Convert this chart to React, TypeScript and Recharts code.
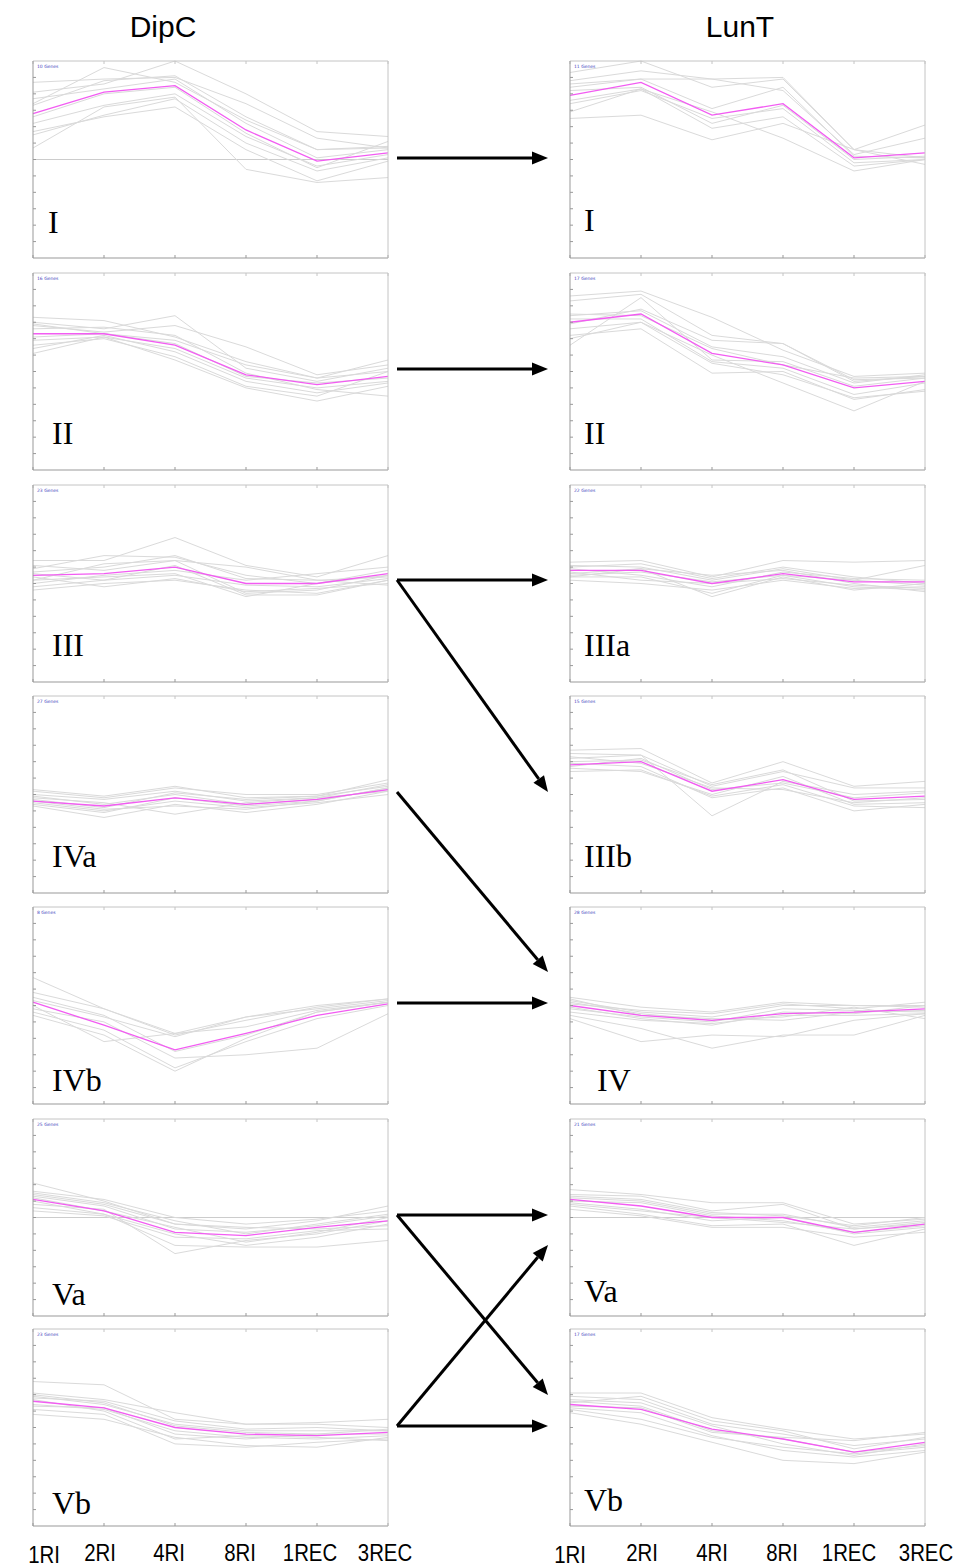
import { LineChart, Line, XAxis, YAxis, ReferenceLine } from "recharts";

const times = ["1RI", "2RI", "4RI", "8RI", "1REC", "3REC"];
const yTicks = [-2.5, -2, -1.5, -1, -0.5, 0, 0.5, 1, 1.5, 2, 2.5];

// DipC clusters
const dipcI_mean = [1.4, 2.05, 2.25, 0.9, -0.05, 0.2];
const dipcI_genes = [
  [2.35, 2.45, 2.5, 1.7, 0.65, 0.35],
  [1.7, 2.8, 2.35, 1.2, 0.3, 0.4],
  [2.05, 2.3, 3.0, 2.0, 0.85, 0.7],
  [1.85, 2.15, 2.45, 1.1, 0.05, 0.3],
  [1.1, 1.65, 2.0, 0.7, -0.2, 0.15],
  [0.75, 1.35, 1.85, 0.5, -0.35, 0.05],
  [0.35, 1.6, 1.9, -0.3, -0.7, -0.55],
  [0.85, 1.3, 1.6, 0.3, -0.65, -0.05],
  [1.65, 2.4, 2.55, 1.3, 0.3, 0.35],
  [1.3, 2.0, 2.2, 0.8, -0.25, 0.55],
];

const dipcII_mean = [1.15, 1.15, 0.8, -0.1, -0.4, -0.15];
const dipcII_genes = [
  [1.65, 1.55, 1.05, 0.3, -0.2, 0.35],
  [1.5, 1.3, 1.7, 0.1, -0.3, 0.1],
  [1.4, 1.2, 1.4, 0.75, -0.1, 0.2],
  [0.95, 1.05, 0.7, -0.2, -0.5, -0.3],
  [0.8, 1.0, 0.45, -0.45, -0.75, 0.0],
  [0.55, 1.05, 0.35, -0.5, -0.9, -0.45],
  [1.3, 1.35, 1.1, -0.05, -0.55, -0.75],
  [1.05, 1.15, 0.85, -0.15, -0.35, -0.2],
  [0.7, 1.1, 0.6, -0.3, -0.65, -0.35],
  [1.45, 1.15, 0.95, 0.2, -0.2, 0.0],
];

const dipcIII_mean = [0.25, 0.3, 0.5, 0.0, 0.0, 0.3];
const dipcIII_genes = [
  [0.7, 0.7, 1.4, 0.55, 0.2, 0.85],
  [0.45, 0.85, 0.8, 0.25, 0.0, 0.4],
  [0.1, 0.6, 0.7, -0.3, -0.2, 0.25],
  [-0.1, 0.1, 0.55, -0.35, -0.35, 0.1],
  [0.3, 0.1, 0.25, -0.05, -0.1, 0.15],
  [0.0, 0.25, 0.4, 0.1, 0.3, 0.5],
  [-0.2, 0.0, 0.1, -0.2, -0.3, 0.1],
  [0.55, 0.4, 0.7, 0.5, 0.1, 0.2],
  [0.2, -0.1, 0.15, -0.25, -0.15, 0.0],
  [0.35, 0.5, 0.85, 0.15, 0.1, -0.05],
  [0.1, 0.2, 0.3, -0.4, 0.0, 0.25],
];

const dipcIVa_mean = [-0.2, -0.35, -0.1, -0.3, -0.15, 0.15];
const dipcIVa_genes = [
  [0.15, -0.05, 0.25, -0.1, -0.05, 0.45],
  [0.0, -0.15, 0.1, -0.2, -0.1, 0.3],
  [-0.3, -0.55, -0.1, -0.35, -0.2, 0.2],
  [-0.35, -0.7, -0.3, -0.55, -0.3, 0.1],
  [-0.1, -0.25, -0.6, -0.25, -0.1, 0.1],
  [-0.15, -0.4, 0.05, -0.15, -0.05, 0.25],
  [-0.25, -0.5, -0.2, -0.4, -0.25, 0.0],
  [0.1, -0.1, 0.2, 0.0, 0.0, 0.35],
  [-0.05, -0.3, 0.0, -0.3, -0.15, 0.15],
  [-0.2, -0.45, -0.35, -0.45, -0.2, 0.2],
];

const dipcIVb_mean = [0.1, -0.6, -1.35, -0.85, -0.3, 0.05];
const dipcIVb_genes = [
  [0.85, -0.1, -0.9, -0.45, -0.05, 0.2],
  [0.4, -0.1, -0.85, -0.35, 0.0, 0.2],
  [0.25, -0.3, -1.4, -0.9, -0.2, 0.1],
  [-0.1, -0.5, -1.6, -1.5, -1.3, -0.25],
  [0.0, -1.1, -0.85, -0.65, -0.15, 0.1],
  [-0.2, -0.75, -1.9, -1.1, -0.4, 0.0],
  [-0.3, -0.9, -2.0, -1.0, -0.2, 0.1],
  [0.15, -0.35, -0.95, -0.35, -0.1, 0.15],
];

const dipcVa_mean = [0.55, 0.2, -0.45, -0.55, -0.3, -0.1];
const dipcVa_genes = [
  [1.05, 0.5, -0.2, -0.35, -0.1, 0.35],
  [0.8, 0.55, 0.0, -0.2, -0.05, 0.2],
  [0.65, 0.35, -0.35, -0.45, -0.25, 0.05],
  [0.4, 0.25, -1.1, -0.7, -0.5, -0.1],
  [0.3, 0.1, -0.5, -0.85, -0.6, -0.2],
  [0.5, 0.1, -0.85, -0.9, -0.9, -0.7],
  [0.7, 0.4, -0.2, -0.3, -0.35, -0.25],
  [0.2, 0.05, -0.6, -0.65, -0.4, -0.35],
  [0.75, 0.45, -0.1, -0.5, -0.2, 0.1],
  [0.6, 0.2, -0.3, -0.75, -0.45, 0.0],
];

const dipcVb_mean = [0.8, 0.6, 0.0, -0.2, -0.25, -0.15];
const dipcVb_genes = [
  [1.4, 1.3, 0.25, 0.1, 0.15, 0.25],
  [1.05, 0.85, 0.45, 0.1, 0.1, 0.0],
  [0.95, 0.7, 0.1, -0.1, -0.1, -0.1],
  [0.7, 0.55, -0.1, -0.3, -0.35, -0.25],
  [0.55, 0.4, -0.5, -0.6, -0.45, -0.35],
  [0.4, 0.25, -0.3, -0.55, -0.6, -0.3],
  [0.9, 0.8, 0.2, -0.05, 0.0, -0.1],
  [0.65, 0.6, -0.2, -0.35, -0.2, -0.2],
  [1.0, 0.75, 0.05, -0.15, -0.2, -0.05],
  [0.85, 0.5, -0.35, -0.25, -0.3, -0.4],
];

// LunT clusters
const luntI_mean = [1.95, 2.35, 1.35, 1.7, 0.05, 0.2];
const luntI_genes = [
  [2.65, 3.0, 2.2, 2.45, 0.3, 1.05],
  [2.4, 2.7, 2.45, 2.1, 0.15, 0.65],
  [2.3, 2.45, 1.55, 2.2, 0.1, 0.05],
  [2.1, 2.2, 1.1, 1.65, 0.0, 0.1],
  [1.8, 2.15, 0.95, 1.3, -0.2, 0.0],
  [1.25, 1.35, 0.6, 1.1, 0.3, -0.15],
  [1.45, 2.15, 1.45, 0.65, -0.35, 0.0],
  [2.2, 2.45, 2.45, 2.5, 0.3, 0.05],
  [1.7, 2.1, 1.25, 1.55, -0.1, 0.0],
];

const luntII_mean = [1.5, 1.75, 0.55, 0.2, -0.5, -0.3];
const luntII_genes = [
  [2.3, 2.45, 1.65, 0.65, -0.15, -0.05],
  [2.15, 2.35, 1.1, 0.85, -0.3, -0.15],
  [0.8, 2.25, 0.35, 0.3, -0.45, -0.2],
  [1.7, 1.85, 0.75, 0.45, -0.35, -0.1],
  [1.6, 1.6, 0.3, 0.1, -0.7, -0.35],
  [1.1, 1.3, -0.05, 0.0, -0.85, -0.55],
  [1.0, 1.5, 0.5, -0.35, -1.2, -0.3],
  [1.45, 1.9, 0.95, 0.85, -0.25, -0.2],
  [1.3, 1.5, 0.25, -0.1, -0.8, -0.6],
  [1.75, 1.7, 0.7, 0.2, -0.2, -0.15],
];

const luntIIIa_mean = [0.4, 0.4, 0.0, 0.3, 0.05, 0.05];
const luntIIIa_genes = [
  [0.65, 0.7, 0.2, 0.7, 0.65, 0.7],
  [0.55, 0.5, 0.1, 0.45, 0.1, 0.55],
  [0.2, 0.2, -0.3, 0.25, -0.1, -0.2],
  [0.3, 0.45, -0.4, 0.2, -0.2, 0.0],
  [0.1, 0.0, -0.2, 0.1, -0.15, -0.1],
  [0.45, 0.25, -0.1, 0.35, 0.15, 0.1],
  [0.2, 0.45, 0.25, 0.4, 0.0, -0.25],
  [0.35, 0.1, 0.0, 0.15, -0.05, -0.15],
  [0.5, 0.6, 0.15, 0.5, 0.2, 0.0],
  [0.25, 0.35, 0.05, 0.25, 0.1, -0.05],
];

const luntIIIb_mean = [0.9, 1.0, 0.1, 0.45, -0.15, -0.05];
const luntIIIb_genes = [
  [1.35, 1.4, 0.35, 1.0, 0.25, 0.4],
  [1.25, 1.2, 0.25, 0.7, 0.2, 0.2],
  [1.1, 1.2, -0.65, 0.4, 0.0, 0.1],
  [0.8, 0.7, 0.0, 0.55, -0.3, -0.25],
  [0.7, 0.75, -0.05, 0.3, -0.35, -0.4],
  [1.0, 1.05, 0.3, 0.75, -0.2, -0.15],
  [0.95, 0.85, -0.1, 0.2, -0.5, -0.3],
  [1.15, 0.95, 0.2, 0.15, -0.25, -0.1],
  [0.85, 1.1, 0.15, 0.35, -0.1, 0.05],
];

const luntIV_mean = [0.0, -0.3, -0.45, -0.25, -0.2, -0.1];
const luntIV_genes = [
  [0.25, -0.05, -0.2, 0.1, 0.0, 0.0],
  [0.15, -0.2, -0.35, 0.0, 0.0, -0.05],
  [-0.1, -0.35, -0.5, -0.1, -0.15, -0.2],
  [-0.2, -0.45, -0.55, -0.3, -0.3, -0.25],
  [-0.4, -1.1, -0.9, -0.95, -0.45, -0.25],
  [-0.3, -0.7, -1.3, -0.9, -0.9, -0.3],
  [0.1, -0.25, -0.45, -0.35, -0.05, -0.4],
  [0.05, -0.15, -0.25, 0.05, -0.1, 0.1],
  [0.2, -0.3, -0.4, -0.45, -0.2, -0.15],
  [-0.05, -0.4, -0.6, -0.2, -0.25, 0.0],
];

const luntVa_mean = [0.55, 0.35, 0.0, 0.0, -0.45, -0.2];
const luntVa_genes = [
  [0.85, 0.7, 0.45, 0.45, -0.2, -0.05],
  [0.7, 0.65, 0.2, 0.4, -0.35, -0.15],
  [0.45, 0.25, -0.1, 0.0, -0.5, -0.3],
  [0.35, 0.1, -0.25, -0.2, -0.85, -0.35],
  [0.25, 0.05, -0.3, -0.3, -0.6, -0.45],
  [0.6, 0.5, 0.1, 0.1, -0.3, -0.1],
  [0.5, 0.45, 0.05, -0.1, -0.45, -0.25],
  [0.4, 0.2, 0.0, -0.15, -0.35, -0.2],
  [0.65, 0.55, 0.15, 0.05, -0.25, 0.0],
];

const luntVb_mean = [0.7, 0.55, -0.05, -0.35, -0.75, -0.45];
const luntVb_genes = [
  [1.05, 1.05, 0.3, -0.05, -0.35, -0.2],
  [0.95, 0.85, 0.1, -0.2, -0.55, -0.35],
  [0.8, 0.65, -0.1, -0.35, -0.75, -0.55],
  [0.6, 0.45, -0.25, -0.7, -0.9, -0.7],
  [0.45, 0.1, -0.45, -1.0, -1.1, -0.75],
  [0.85, 0.75, 0.05, -0.5, -0.85, -0.5],
  [0.65, 0.6, -0.15, -0.3, -0.4, -0.15],
  [0.75, 0.95, 0.2, -0.1, -0.65, -0.3],
  [0.55, 0.25, -0.3, -0.6, -0.8, -0.6],
];

const rowTops = [61, 273, 485, 696, 907, 1119, 1329];
const colLefts = [33, 570];
const panelW = 355;
const panelH = 197;

type Panel = {
  col: number;
  row: number;
  name: string;
  genes: string;
  mean: number[];
  profiles: number[][];
  zero?: boolean;
  labelX: number;
  labelDy: number;
};

const panels: Panel[] = [
  { col: 0, row: 0, name: "I", genes: "10 Genes", mean: dipcI_mean, profiles: dipcI_genes, zero: true, labelX: 48, labelDy: 161 },
  { col: 0, row: 1, name: "II", genes: "16 Genes", mean: dipcII_mean, profiles: dipcII_genes, labelX: 52, labelDy: 160 },
  { col: 0, row: 2, name: "III", genes: "23 Genes", mean: dipcIII_mean, profiles: dipcIII_genes, labelX: 52, labelDy: 160 },
  { col: 0, row: 3, name: "IVa", genes: "27 Genes", mean: dipcIVa_mean, profiles: dipcIVa_genes, labelX: 52, labelDy: 160 },
  { col: 0, row: 4, name: "IVb", genes: "8 Genes", mean: dipcIVb_mean, profiles: dipcIVb_genes, labelX: 52, labelDy: 173 },
  { col: 0, row: 5, name: "Va", genes: "25 Genes", mean: dipcVa_mean, profiles: dipcVa_genes, zero: true, labelX: 52, labelDy: 175 },
  { col: 0, row: 6, name: "Vb", genes: "23 Genes", mean: dipcVb_mean, profiles: dipcVb_genes, labelX: 52, labelDy: 174 },
  { col: 1, row: 0, name: "I", genes: "11 Genes", mean: luntI_mean, profiles: luntI_genes, labelX: 584, labelDy: 159 },
  { col: 1, row: 1, name: "II", genes: "17 Genes", mean: luntII_mean, profiles: luntII_genes, labelX: 584, labelDy: 160 },
  { col: 1, row: 2, name: "IIIa", genes: "22 Genes", mean: luntIIIa_mean, profiles: luntIIIa_genes, labelX: 584, labelDy: 160 },
  { col: 1, row: 3, name: "IIIb", genes: "15 Genes", mean: luntIIIb_mean, profiles: luntIIIb_genes, labelX: 584, labelDy: 160 },
  { col: 1, row: 4, name: "IV", genes: "28 Genes", mean: luntIV_mean, profiles: luntIV_genes, labelX: 597, labelDy: 173 },
  { col: 1, row: 5, name: "Va", genes: "21 Genes", mean: luntVa_mean, profiles: luntVa_genes, zero: true, labelX: 584, labelDy: 172 },
  { col: 1, row: 6, name: "Vb", genes: "17 Genes", mean: luntVb_mean, profiles: luntVb_genes, labelX: 584, labelDy: 171 },
];

const bottomLabelsLeft = [44, 100, 169, 240, 310, 385];
const bottomLabelsRight = [570, 642, 712, 782, 849, 926];

const arrows = [
  [397, 158, 548, 158],
  [397, 369, 548, 369],
  [397, 580, 548, 580],
  [397, 580, 548, 792],
  [397, 792, 548, 972],
  [397, 1003, 548, 1003],
  [397, 1215, 548, 1215],
  [397, 1215, 548, 1395],
  [397, 1426, 548, 1426],
  [397, 1426, 548, 1245],
];

const blank = () => "";

const ClusterChart = ({ p }: { p: Panel }) => {
  const data = times.map((t, i) => {
    const row: Record<string, number | string> = { t, mean: p.mean[i] };
    p.profiles.forEach((g, k) => {
      row[`g${k}`] = g[i];
    });
    return row;
  });

  return (
    <div
      style={{
        position: "absolute",
        left: colLefts[p.col] - 1,
        top: rowTops[p.row] - 1,
      }}
    >
      <LineChart
        width={panelW + 2}
        height={panelH + 2}
        data={data}
        margin={{ top: 1, right: 1, bottom: 1, left: 1 }}
      >
        <XAxis
          dataKey="t"
          mirror
          tickSize={3}
          tickFormatter={blank}
          stroke="#999"
          interval={0}
        />
        <XAxis
          xAxisId="top"
          dataKey="t"
          orientation="top"
          mirror
          tickSize={3}
          tickFormatter={blank}
          stroke="#c4c4c4"
          interval={0}
        />
        <YAxis
          domain={[-3, 3]}
          ticks={yTicks}
          mirror
          tickSize={3}
          tickFormatter={blank}
          stroke="#999"
        />
        <YAxis
          yAxisId="r"
          orientation="right"
          domain={[-3, 3]}
          mirror
          tick={false}
          tickLine={false}
          stroke="#c4c4c4"
        />
        {p.zero && <ReferenceLine y={0} stroke="#cccccc" strokeWidth={1} />}
        {p.profiles.map((_, k) => (
          <Line
            key={k}
            dataKey={`g${k}`}
            stroke="#dadada"
            strokeWidth={1}
            dot={false}
            isAnimationActive={false}
          />
        ))}
        <Line
          dataKey="mean"
          stroke="#f25cf2"
          strokeWidth={1.3}
          dot={false}
          isAnimationActive={false}
        />
      </LineChart>
    </div>
  );
};

const headPoints = (x1: number, y1: number, x2: number, y2: number) => {
  const len = Math.hypot(x2 - x1, y2 - y1);
  const ux = (x2 - x1) / len;
  const uy = (y2 - y1) / len;
  const bx = x2 - ux * 16;
  const by = y2 - uy * 16;
  return {
    bx,
    by,
    pts: `${x2},${y2} ${bx - uy * 6.5},${by + ux * 6.5} ${bx + uy * 6.5},${by - ux * 6.5}`,
  };
};

export default function App() {
  return (
    <div
      style={{
        position: "absolute",
        left: 0,
        top: 0,
        width: 958,
        height: 1567,
        background: "#fff",
      }}
    >
      {panels.map((p, i) => (
        <ClusterChart key={i} p={p} />
      ))}
      <svg
        width={958}
        height={1567}
        style={{ position: "absolute", left: 0, top: 0, pointerEvents: "none" }}
      >
        <text x={163} y={37} textAnchor="middle" fontFamily="Liberation Sans, Arial" fontSize={30}>
          DipC
        </text>
        <text x={740} y={37} textAnchor="middle" fontFamily="Liberation Sans, Arial" fontSize={30}>
          LunT
        </text>

        {panels.map((p, i) => (
          <g key={i}>
            <text
              x={colLefts[p.col] + 4}
              y={rowTops[p.row] + 7}
              fontFamily="DejaVu Sans"
              fontSize={4.5}
              fill="#4a4ac0"
            >
              {p.genes}
            </text>
            <text
              x={p.labelX}
              y={rowTops[p.row] + p.labelDy + 11}
              fontFamily="Liberation Serif, Times New Roman"
              fontSize={32}
              fill="#000"
            >
              {p.name}
            </text>
          </g>
        ))}

        {arrows.map(([x1, y1, x2, y2], i) => {
          const h = headPoints(x1, y1, x2, y2);
          return (
            <g key={i}>
              <line x1={x1} y1={y1} x2={h.bx} y2={h.by} stroke="#000" strokeWidth={3} />
              <polygon points={h.pts} fill="#000" />
            </g>
          );
        })}

        {times.map((t, i) => (
          <g key={`l${i}`} transform={`translate(${bottomLabelsLeft[i]},${i === 0 ? 1563 : 1561}) scale(0.85,1)`}>
            <text textAnchor="middle" fontFamily="Liberation Sans, Arial" fontSize={24}>
              {t}
            </text>
          </g>
        ))}
        {times.map((t, i) => (
          <g key={`r${i}`} transform={`translate(${bottomLabelsRight[i]},${i === 0 ? 1563 : 1561}) scale(0.85,1)`}>
            <text textAnchor="middle" fontFamily="Liberation Sans, Arial" fontSize={24}>
              {t}
            </text>
          </g>
        ))}
      </svg>
    </div>
  );
}
